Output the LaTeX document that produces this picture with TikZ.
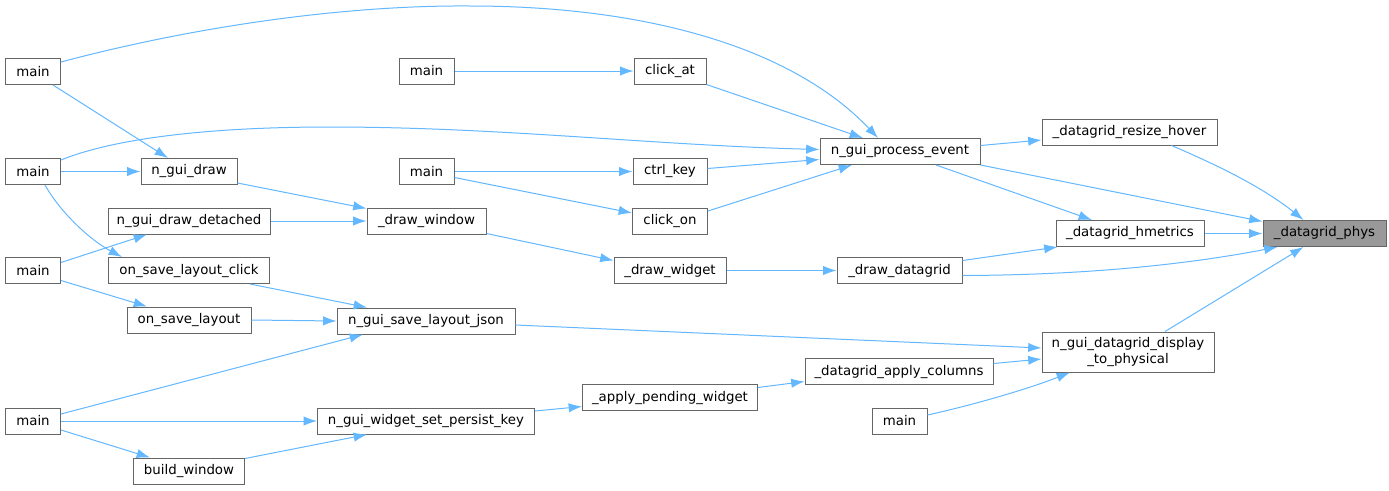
\documentclass[tikz,border=0pt]{standalone}
\usepackage{fontspec}
\setmainfont{DejaVu Sans}
\usetikzlibrary{arrows.meta}
\definecolor{dxedge}{HTML}{63B8FF}
\definecolor{dxbord}{HTML}{666666}
\definecolor{dxhl}{HTML}{999999}
\begin{document}
\begin{tikzpicture}[x=0.75pt,y=-0.75pt,
  fn/.style={draw=dxbord, line width=0.75pt, fill=white, inner sep=0pt,
    minimum height=26*0.75pt, font=\fontsize{10}{11.5}\selectfont, text=black, align=center},
  w/.style={minimum width=#1*0.75pt},
  call/.style={draw=dxedge, line width=0.75pt, -{Latex[length=10pt,width=7pt]}}]
\useasboundingbox[fill=white] (0,0) rectangle (1389,490);
% rank 0
\node[fn,w=55] (m1) at (33,71.5) {main};
\node[fn,w=55] (m2) at (33,171.5) {main};
\node[fn,w=55] (m3) at (33,270.5) {main};
\node[fn,w=55] (m4) at (33,421) {main};
% rank 1
\node[fn,w=96] (draw) at (189,171.5) {n\_gui\_draw};
\node[fn,w=162] (drawdet) at (189,221) {n\_gui\_draw\_detached};
\node[fn,w=161] (oslc) at (189,270.5) {on\_save\_layout\_click};
\node[fn,w=124] (osl) at (189,320) {on\_save\_layout};
\node[fn,w=111] (bw) at (189,471) {build\_window};
% rank 2
\node[fn,w=55] (m5) at (426.5,71) {main};
\node[fn,w=55] (m6) at (426.5,171.5) {main};
\node[fn,w=119] (dwin) at (426.5,221) {\_draw\_window};
\node[fn,w=178] (slj) at (426,321) {n\_gui\_save\_layout\_json};
\node[fn,w=217] (spk) at (426,421) {n\_gui\_widget\_set\_persist\_key};
% rank 3
\node[fn,w=72] (cat) at (670,71) {click\_at};
\node[fn,w=74] (ckey) at (670,171.5) {ctrl\_key};
\node[fn,w=75] (con) at (670,221) {click\_on};
\node[fn,w=112] (dwid) at (670,270.5) {\_draw\_widget};
\node[fn,w=175] (apw) at (670,397.5) {\_apply\_pending\_widget};
% rank 4
\node[fn,w=160] (gpe) at (900,151.5) {n\_gui\_process\_event};
\node[fn,w=125] (ddg) at (899.5,270.5) {\_draw\_datagrid};
\node[fn,w=188] (dac) at (899,371.5) {\_datagrid\_apply\_columns};
\node[fn,w=55] (m7) at (899.5,421) {main};
% rank 5
\node[fn,w=175] (drh) at (1129.5,132) {\_datagrid\_resize\_hover};
\node[fn,w=148] (dhm) at (1130,233.5) {\_datagrid\_hmetrics};
\node[fn,w=172,minimum height=40*0.75pt] (disp) at (1128,352) {n\_gui\_datagrid\_display\\\_to\_physical};
% rank 6
\node[fn,w=123,fill=dxhl] (phys) at (1324.5,233.5) {\_datagrid\_phys};

% connectors
\draw[call] ([shift={(0,4)}]m1.north east) .. controls (200,25) and (350,5) .. (470,6)
  .. controls (640,6) and (790,45) .. ([shift={(-22,0)}]gpe.north);
\draw[call] ([shift={(20,0)}]m1.south) -- ([shift={(-21,0)}]draw.north);
\draw[call] (m2.east) -- (draw.west);
\draw[call] ([shift={(0,2)}]m2.north east) .. controls (110,140) and (200,127) .. (330,127)
  .. controls (500,127) and (650,145) .. ([shift={(0,-2)}]gpe.west);
\draw[call] ([shift={(12,0)}]m2.south) .. controls (60,212) and (90,240) .. ([shift={(-67,0)}]oslc.north);
\draw[call] ([shift={(0,-8)}]m3.east) -- ([shift={(-42,0)}]drawdet.south);
\draw[call] ([shift={(0,10)}]m3.east) -- ([shift={(-42,0)}]osl.north);
\draw[call] (m5.east) -- (cat.west);
\draw[call] (m6.east) -- (ckey.west);
\draw[call] ([shift={(0,6)}]m6.east) -- ([shift={(0,-8)}]con.west);
\draw[call] ([shift={(0,-2)}]draw.south east) -- ([shift={(0,1)}]dwin.north west);
\draw[call] (drawdet.east) -- (dwin.west);
\draw[call] ([shift={(61,0)}]oslc.south) -- ([shift={(-59,0)}]slj.north);
\draw[call] (osl.east) -- (slj.west);
\draw[call] ([shift={(0,-7)}]m4.east) -- ([shift={(-63,0)}]slj.south);
\draw[call] (m4.east) -- (spk.west);
\draw[call] ([shift={(0,9)}]m4.east) -- ([shift={(-39,0)}]bw.north);
\draw[call] ([shift={(0,1)}]bw.north east) -- ([shift={(-59,0)}]spk.south);
\draw[call] (cat.south east) -- ([shift={(-37,0)}]gpe.north);
\draw[call] ([shift={(0,-3)}]ckey.east) -- ([shift={(0,8)}]gpe.west);
\draw[call] ([shift={(0,-10)}]con.east) -- ([shift={(-48,0)}]gpe.south);
\draw[call] ([shift={(0,-1)}]dwin.south east) -- ([shift={(0,-10)}]dwid.west);
\draw[call] (dwid.east) -- (ddg.west);
\draw[call] ([shift={(0,4)}]slj.east) -- ([shift={(0,-4)}]disp.west);
\draw[call] ([shift={(0,-10)}]apw.east) -- ([shift={(0,10)}]dac.west);
\draw[call] ([shift={(0,-10)}]spk.east) -- ([shift={(0,9)}]apw.west);
\draw[call] ([shift={(0,-8)}]dac.east) -- ([shift={(0,7)}]disp.west);
\draw[call] ([shift={(0,-6)}]m7.east) .. controls (960,408) and (1020,392) .. ([shift={(-58,0)}]disp.south);
\draw[call] ([shift={(0,-6)}]gpe.east) -- ([shift={(0,8)}]drh.west);
\draw[call] ([shift={(36,0)}]gpe.south) -- ([shift={(-38,0)}]dhm.north);
\draw[call] (gpe.south east) -- ([shift={(0,-12)}]phys.west);
\draw[call] ([shift={(42,0)}]drh.south) .. controls (1210,162) and (1260,185) .. ([shift={(-21,0)}]phys.north);
\draw[call] (dhm.east) -- (phys.west);
\draw[call] ([shift={(0,-10)}]ddg.east) -- ([shift={(2,0)}]dhm.south west);
\draw[call] ([shift={(0,5)}]ddg.east) .. controls (1100,275) and (1200,262) .. ([shift={(-47,0)}]phys.south);
\draw[call] ([shift={(37,0)}]disp.north) -- ([shift={(-21,0)}]phys.south);
\end{tikzpicture}
\end{document}
